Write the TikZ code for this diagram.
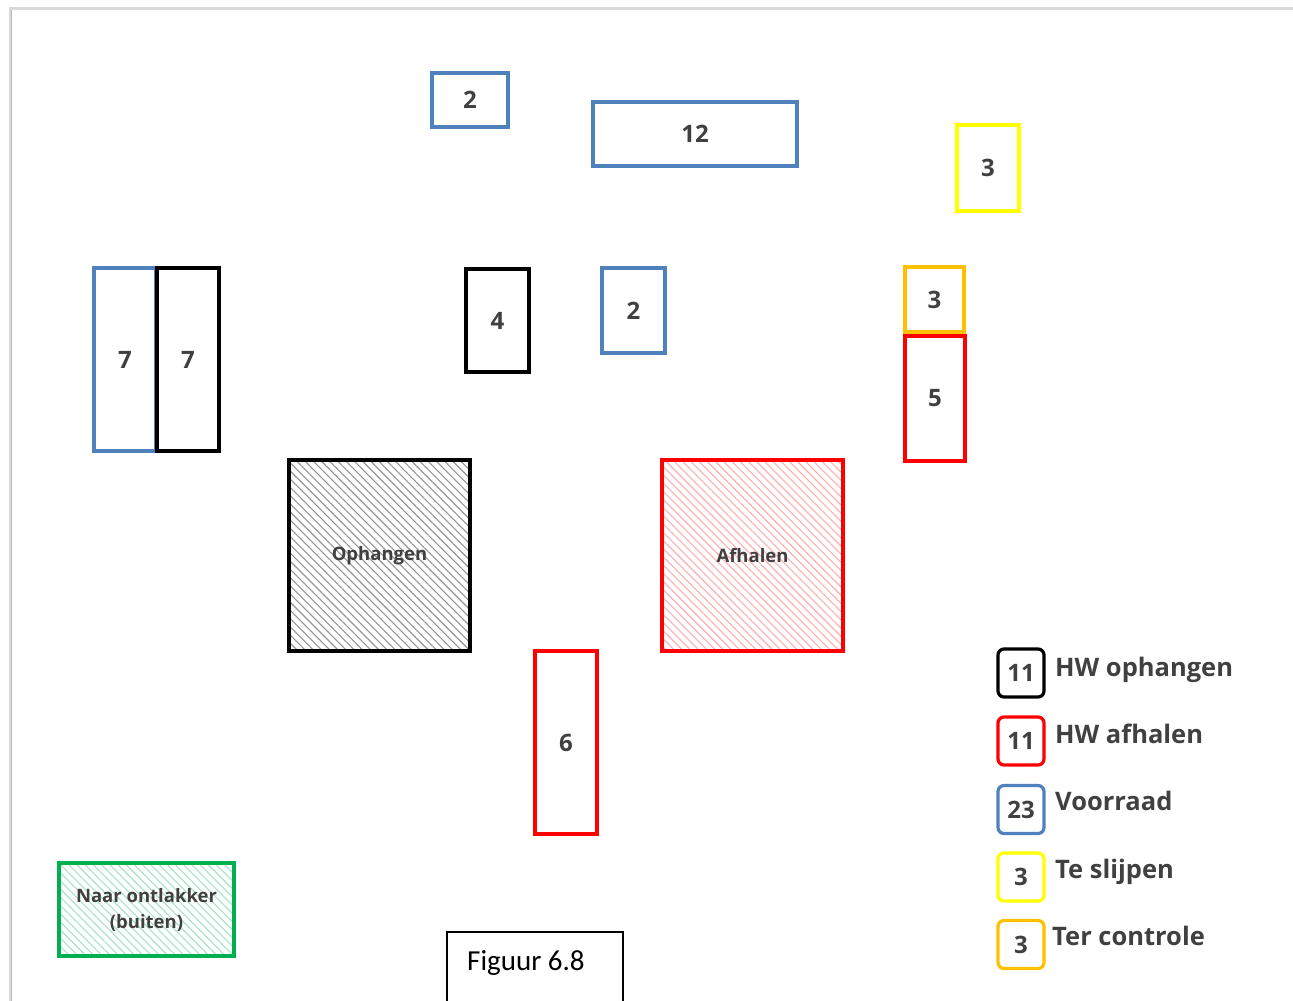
\documentclass[tikz,border=0pt]{standalone}
\usepackage{fontspec}
\setmainfont{Carlito}
\newfontfamily\lblfont{Open Sans}
\usetikzlibrary{patterns.meta}
\definecolor{obl}{HTML}{4F81BD}
\definecolor{ored}{HTML}{FF0000}
\definecolor{oyel}{HTML}{FFFF00}
\definecolor{oorg}{HTML}{FFC000}
\definecolor{ogrn}{HTML}{00B050}
\definecolor{txt}{HTML}{404040}
\tikzset{
  box/.style={draw, line width=3.4pt, inner sep=0pt, font=\lblfont\bfseries\fontsize{24}{26}\selectfont, text=txt},
  hatchbox/.style={box, line width=3.6pt, font=\lblfont\bfseries\fontsize{18.5}{26}\selectfont, align=center},
  legbox/.style={draw, line width=3.2pt, rounded corners=6pt, minimum width=46pt, minimum height=48pt, inner sep=0pt, font=\lblfont\bfseries\fontsize{24}{26}\selectfont, text=txt},
  leglab/.style={anchor=base west, inner sep=0pt, font=\lblfont\bfseries\fontsize{25.5}{28}\selectfont, text=txt},
}
\begin{document}
\begin{tikzpicture}[x=1pt,y=-1pt]
\useasboundingbox (0,0) rectangle (1293,1001);
% page edge shadow
\draw[line width=3pt, black!15] (10,1001) -- (10,8) -- (1293,8);
\draw[line width=1pt, black!28] (11.5,1001) -- (11.5,9.5);
% boxes
\node[box, draw=obl, minimum width=76pt, minimum height=54pt] (b2a) at (470,100) {2};
\node[box, draw=obl, minimum width=204pt, minimum height=64pt] (b12) at (695,134) {12};
\node[box, draw=oyel, minimum width=62pt, minimum height=86pt] (y3) at (988,168) {3};
\node[box, draw=obl, minimum width=62pt, minimum height=183pt] (b7) at (125,359.5) {7};
\node[box, draw=black, minimum width=62pt, minimum height=183pt] (k7) at (188,359.5) {7};
\node[box, draw=black, minimum width=63pt, minimum height=103pt] (k4) at (497.5,320.5) {4};
\node[box, draw=obl, minimum width=63pt, minimum height=85pt] (b2b) at (633.5,310.5) {2};
\node[box, draw=oorg, minimum width=59pt, minimum height=65pt] (o3) at (934.5,299.5) {3};
\node[box, draw=ored, minimum width=60pt, minimum height=125pt] (r5) at (935,398.5) {5};
\node[hatchbox, draw=black, minimum width=181pt, minimum height=191pt,
  pattern={Lines[angle=-45,distance=5.8pt,line width=1.1pt]}, pattern color=black!42] (oph) at (379.5,555.5) {Ophangen};
\node[hatchbox, draw=ored, minimum width=181pt, minimum height=191pt,
  pattern={Lines[angle=-45,distance=5.8pt,line width=1.1pt]}, pattern color=ored!32] (afh) at (752.5,555.5) {Afhalen};
\node[box, draw=ored, minimum width=62pt, minimum height=183pt] (r6) at (566,742.5) {6};
\node[hatchbox, draw=ogrn, minimum width=175pt, minimum height=93pt,
  pattern={Lines[angle=-45,distance=5.8pt,line width=1.1pt]}, pattern color=ogrn!35] (grn) at (146.5,909.5) {Naar ontlakker\\(buiten)};
% figure caption box
\draw[line width=1.4pt] (447,1001) -- (447,932) -- (623,932) -- (623,1001);
\node[anchor=base west, inner sep=0pt, font=\fontsize{29}{31}\selectfont] (fig) at (467,970) {Figuur 6.8};
% legend
\node[legbox, draw=black] (l1) at (1021,673) {11};
\node[legbox, draw=ored] (l2) at (1021,741) {11};
\node[legbox, draw=obl] (l3) at (1021,809.5) {23};
\node[legbox, draw=oyel] (l4) at (1021,877) {3};
\node[legbox, draw=oorg] (l5) at (1021,944.5) {3};
\node[leglab] (t1) at (1055,676) {HW ophangen};
\node[leglab] (t2) at (1055,743) {HW afhalen};
\node[leglab] (t3) at (1055,810) {Voorraad};
\node[leglab] (t4) at (1055,878) {Te slijpen};
\node[leglab] (t5) at (1052,945) {Ter controle};
\end{tikzpicture}
\end{document}
